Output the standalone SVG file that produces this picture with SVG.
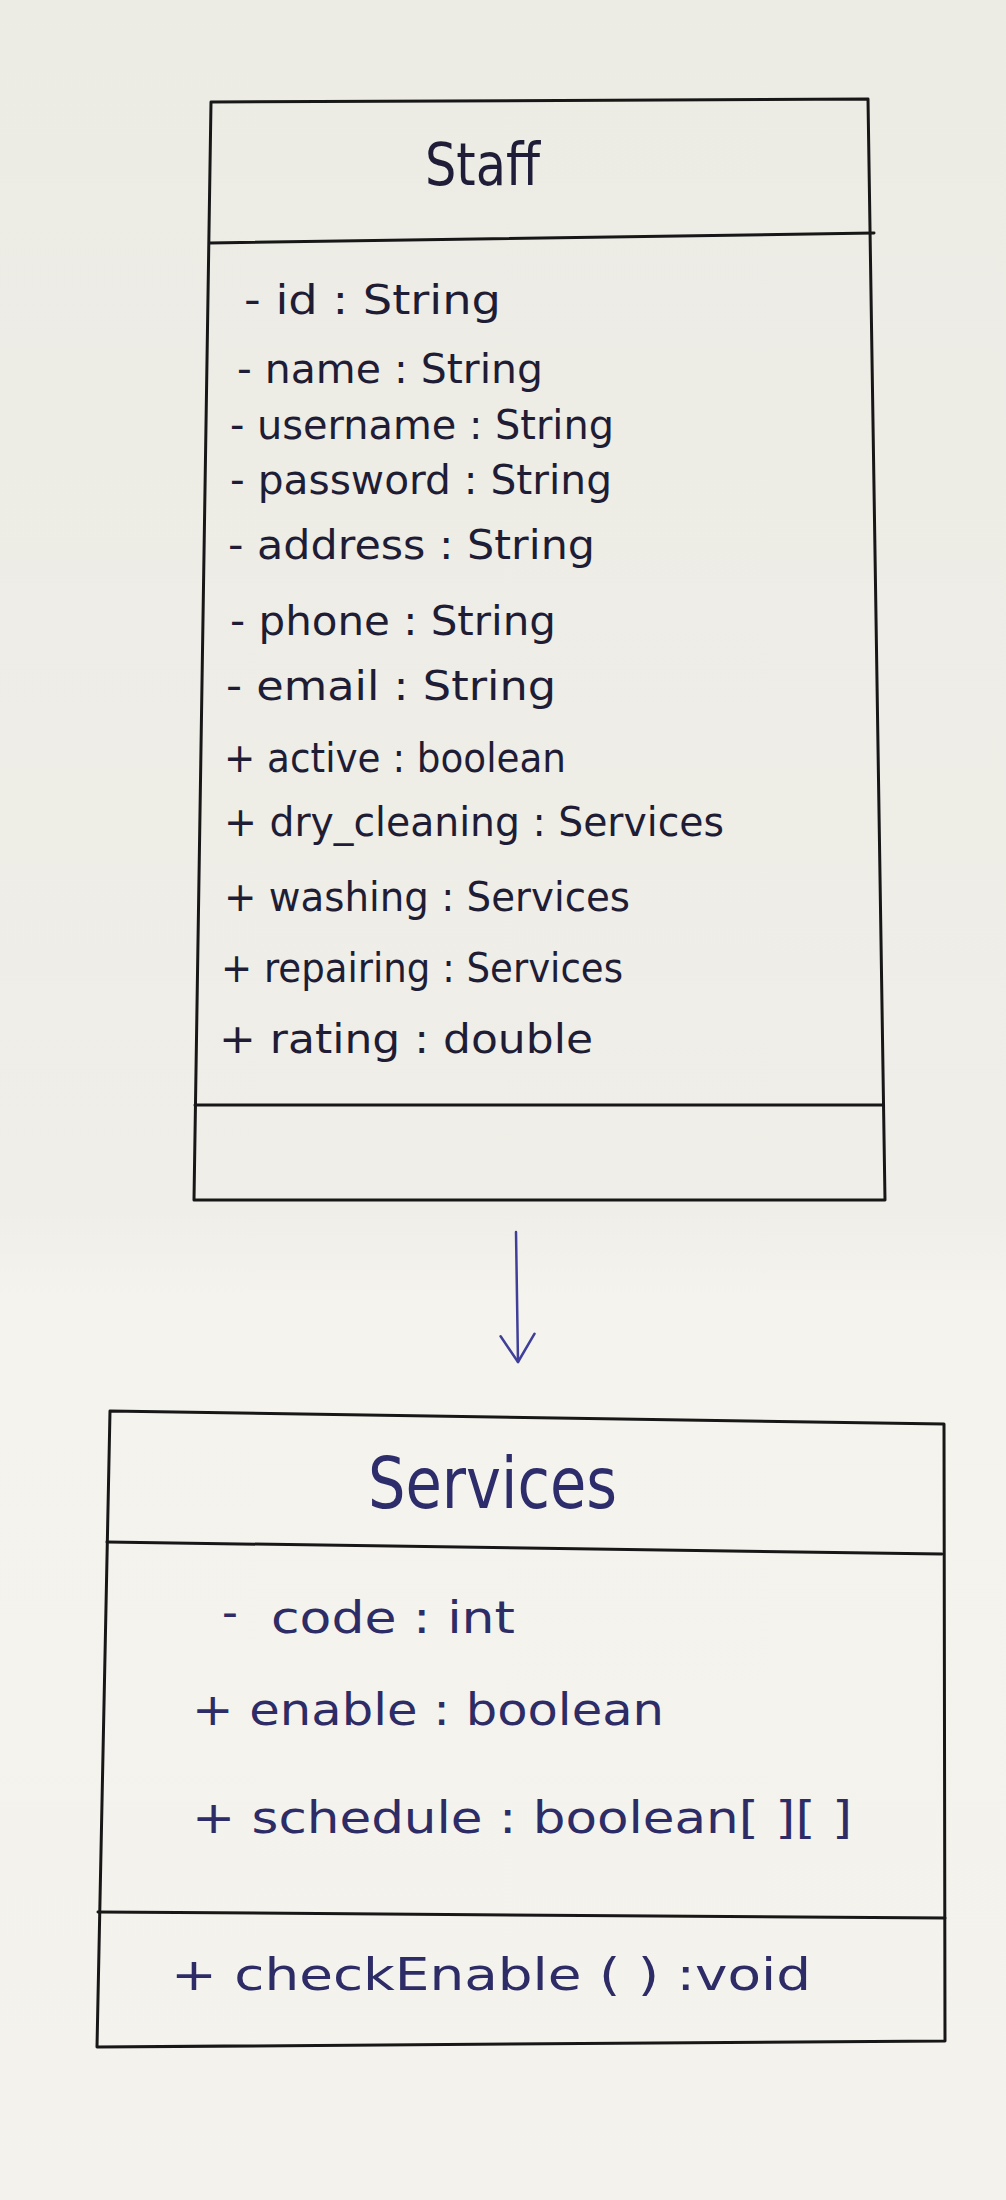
<svg xmlns="http://www.w3.org/2000/svg" width="1006" height="2200" viewBox="0 0 1006 2200">
<defs>
<style>
.edge{fill:none;stroke:#171717;stroke-width:3;stroke-linecap:round;stroke-linejoin:round}
.conn{fill:none;stroke:#3f3f9a;stroke-width:2.5;stroke-linecap:round;stroke-linejoin:round}
.title1{font-family:"DejaVu Sans","Liberation Sans",sans-serif;font-size:58px;fill:#1f1d38}
.title2{font-family:"DejaVu Sans","Liberation Sans",sans-serif;font-size:72px;fill:#2e2d6c}
.a1{font-family:"DejaVu Sans","Liberation Sans",sans-serif;font-size:41px;fill:#1f1d35}
.a2{font-family:"DejaVu Sans","Liberation Sans",sans-serif;font-size:44px;fill:#2d2c66}
</style>
<linearGradient id="paper" x1="0" y1="0" x2="0" y2="1">
<stop offset="0" stop-color="#ecebe4"/>
<stop offset="0.55" stop-color="#efeee8"/>
<stop offset="0.59" stop-color="#f4f3ed"/>
<stop offset="1" stop-color="#f3f2ec"/>
</linearGradient>
<marker id="open-arrow" markerUnits="userSpaceOnUse" viewBox="-32 -22 36 44" markerWidth="36" markerHeight="44" refX="0" refY="0" orient="auto">
<path d="M-28,-17 L0,0 L-26,17" fill="none" stroke="#3f3f9a" stroke-width="2.5" stroke-linecap="round" stroke-linejoin="round"/>
</marker>
</defs>
<rect x="0" y="0" width="1006" height="2200" fill="url(#paper)"/>

<g id="staff">
<path class="edge" d="M211,102 L868,99 L885,1200 L194,1200 Z"/>
<path class="edge" d="M210,243 L874,233"/>
<path class="edge" d="M195,1105 L883,1105"/>
<text class="title1" x="425" y="185" textLength="115" lengthAdjust="spacingAndGlyphs">Staff</text>
<text class="a1" x="244" y="314" textLength="257" lengthAdjust="spacingAndGlyphs">- id : String</text>
<text class="a1" x="237" y="383" textLength="306" lengthAdjust="spacingAndGlyphs">- name : String</text>
<text class="a1" x="230" y="439" textLength="384" lengthAdjust="spacingAndGlyphs">- username : String</text>
<text class="a1" x="230" y="494" textLength="382" lengthAdjust="spacingAndGlyphs">- password : String</text>
<text class="a1" x="228" y="559" textLength="367" lengthAdjust="spacingAndGlyphs">- address : String</text>
<text class="a1" x="230" y="635" textLength="326" lengthAdjust="spacingAndGlyphs">- phone : String</text>
<text class="a1" x="226" y="700" textLength="330" lengthAdjust="spacingAndGlyphs">- email : String</text>
<text class="a1" x="224" y="772" textLength="342" lengthAdjust="spacingAndGlyphs">+ active : boolean</text>
<text class="a1" x="224" y="836" textLength="500" lengthAdjust="spacingAndGlyphs">+ dry_cleaning : Services</text>
<text class="a1" x="224" y="911" textLength="406" lengthAdjust="spacingAndGlyphs">+ washing : Services</text>
<text class="a1" x="221" y="982" textLength="402" lengthAdjust="spacingAndGlyphs">+ repairing : Services</text>
<text class="a1" x="219" y="1053" textLength="374" lengthAdjust="spacingAndGlyphs">+ rating : double</text>
</g>

<g id="services">
<path class="edge" d="M110,1411 L944,1424 L945,2041 L97,2047 Z"/>
<path class="edge" d="M107,1542 L942,1554"/>
<path class="edge" d="M98,1912 L945,1918"/>
<text class="title2" x="368" y="1508" textLength="249" lengthAdjust="spacingAndGlyphs">Services</text>
<text class="a2" y="1633"><tspan x="222" y="1627">-</tspan> <tspan x="271" y="1633" textLength="244" lengthAdjust="spacingAndGlyphs">code : int</tspan></text>
<text class="a2" x="192" y="1725" textLength="472" lengthAdjust="spacingAndGlyphs">+ enable : boolean</text>
<text class="a2" x="192" y="1833" textLength="660" lengthAdjust="spacingAndGlyphs">+ schedule : boolean[ ][ ]</text>
<text class="a2" x="171" y="1990" textLength="640" lengthAdjust="spacingAndGlyphs">+ checkEnable ( ) :void</text>
</g>

<g id="connectors">
<path class="conn" d="M516,1232 L518,1362" marker-end="url(#open-arrow)"/>
</g>
</svg>
